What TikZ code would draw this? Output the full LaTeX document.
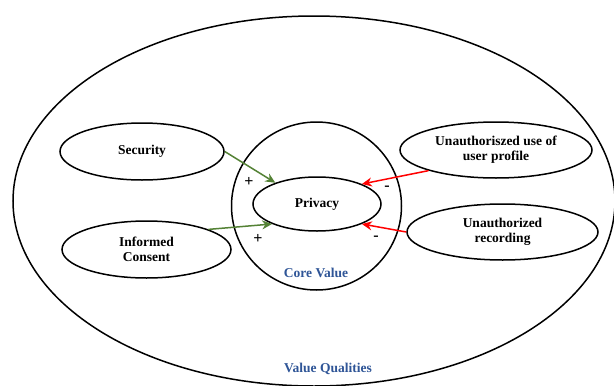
\documentclass[tikz,border=0pt]{standalone}
\usepackage{fontspec}
\setmainfont{Liberation Serif}
\usetikzlibrary{shapes.geometric,arrows.meta}
\definecolor{valblue}{RGB}{47,85,151}
\definecolor{posgreen}{RGB}{84,130,53}
\definecolor{negred}{RGB}{255,0,0}
\tikzset{
  oval/.style={draw=black, line width=1.5pt, ellipse, inner sep=0pt, align=center,
    font=\fontsize{13.5}{15}\selectfont\bfseries},
  region/.style={draw=black, line width=1.5pt, ellipse, inner sep=0pt},
  bluelabel/.style={text=valblue, font=\fontsize{13.5}{15}\selectfont\bfseries},
  sign/.style={font=\fontsize{16}{16}\selectfont\bfseries, inner sep=0pt},
  posarrow/.style={draw=posgreen, line width=1.5pt, -{Stealth[length=10pt,width=9pt]}},
  negarrow/.style={draw=negred, line width=1.5pt, -{Stealth[length=10pt,width=9pt]}},
}
\begin{document}
\begin{tikzpicture}[x=1pt,y=-1pt]
\useasboundingbox (0,0) rectangle (614,386);
\fill[white] (0,0) rectangle (614,386);
% regions
\node[region, minimum width=602pt, minimum height=370pt] (outer) at (314,201) {};
\node[region, minimum width=170pt, minimum height=168pt] (core) at (316.5,206) {};
% nodes
\node[oval, minimum width=128pt, minimum height=54pt] (priv) at (317,204) {Privacy};
\node[oval, minimum width=164pt, minimum height=57pt] (sec) at (142,151.5) {Security};
\node[oval, minimum width=169pt, minimum height=57pt] (ic) at (146.5,249.5) {Informed\\Consent};
\node[oval, minimum width=192pt, minimum height=56pt] (uu) at (496,150) {Unauthoriszed use of\\user profile};
\node[oval, minimum width=191pt, minimum height=56pt] (ur) at (502.5,232) {Unauthorized\\recording};
% labels
\node[bluelabel] (corelbl) at (316,273) {Core Value};
\node[bluelabel] (vqlbl) at (328,369) {Value Qualities};
\node[sign] (p1) at (249,182) {+};
\node[sign] (p2) at (258,239) {+};
\node[sign] (m1) at (387,188) {-};
\node[sign] (m2) at (376,238) {-};
% connectors
\draw[posarrow] (sec.east) -- (priv.153);
\draw[posarrow] (ic.18) -- (priv.204);
\draw[negarrow] (uu.197) -- (priv.24);
\draw[negarrow] (ur.west) -- (priv.336);
\end{tikzpicture}
\end{document}
